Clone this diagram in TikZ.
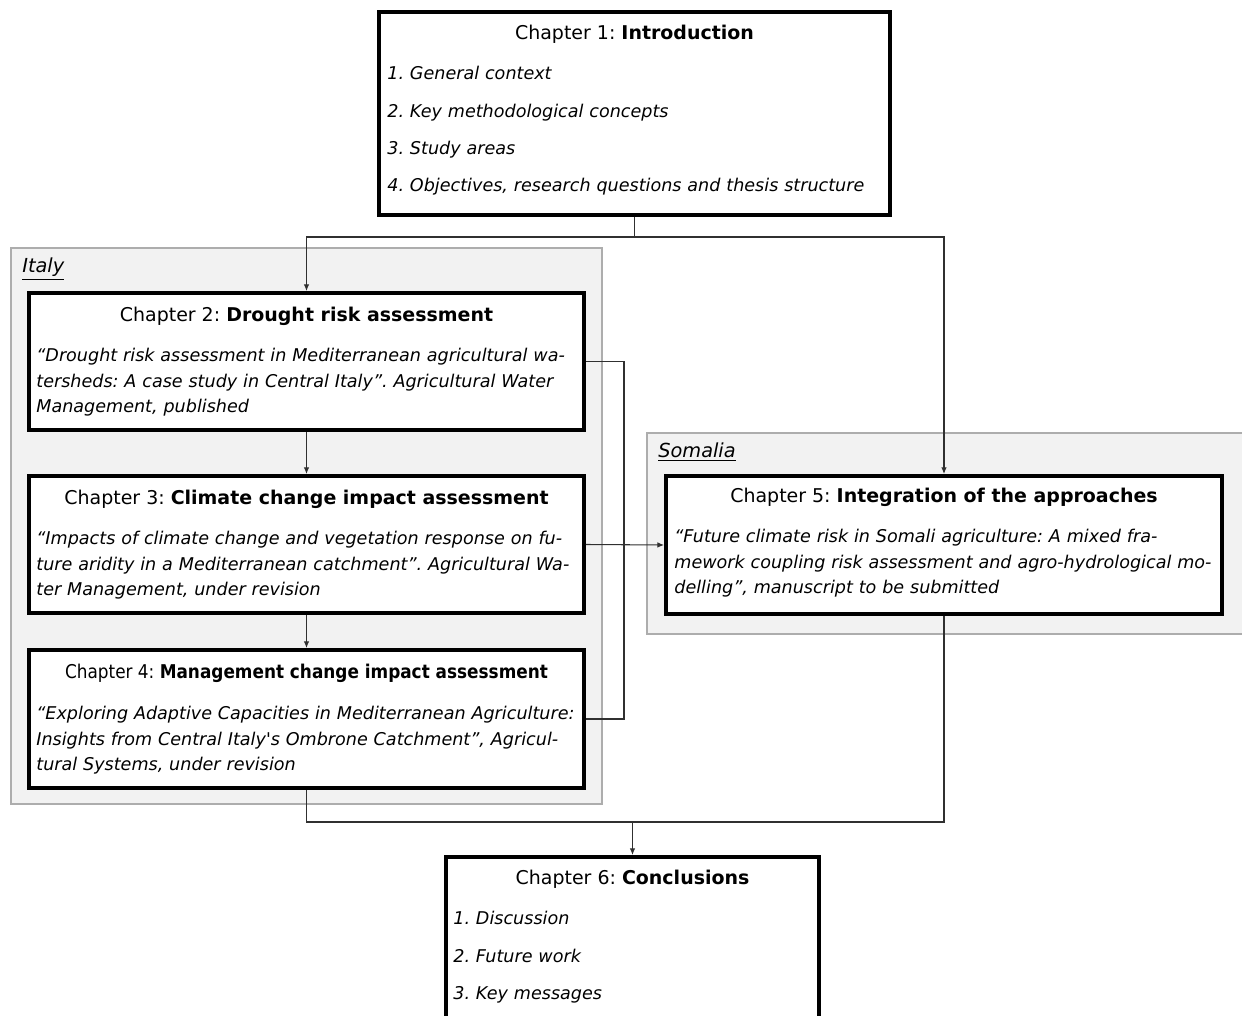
\documentclass[tikz,border=0pt]{standalone}
\usepackage{fontspec}
\setmainfont{DejaVu Sans}
\usepackage{graphicx}
\usetikzlibrary{arrows.meta,positioning,calc}

\definecolor{groupfill}{HTML}{F2F2F2}
\definecolor{groupline}{HTML}{ADADAD}
\definecolor{connline}{HTML}{303030}

\newcommand{\chap}[2]{Chapter #1: \textbf{#2}}
\frenchspacing

\begin{document}
\begin{tikzpicture}[x=0.02cm,y=-0.02cm,
    chapbox/.style={draw=black,line width=2.3pt,fill=white,inner sep=0pt},
    chaptitle/.style={font=\fontsize{10.8}{13}\selectfont,inner sep=0pt},
    chapbody/.style={font=\fontsize{10}{14.5}\selectfont\itshape,inner sep=0pt,
      anchor=base west,text width=10.9cm,align=left},
    chaplist/.style={chapbody,font=\fontsize{10}{21.2}\selectfont\itshape,text width=9.8cm},
    group/.style={draw=groupline,line width=1.1pt,fill=groupfill,inner sep=0pt},
    grouplabel/.style={font=\fontsize{11}{13}\selectfont\itshape,inner sep=0pt,anchor=base west},
    conn/.style={draw=connline,line width=0.6pt},
    arr/.style={conn,-{Latex[length=3.8pt,width=3.2pt]}}
  ]
  \useasboundingbox (0,0) rectangle (1242,1016);

  % groups
  \node[group,minimum width=11.82cm,minimum height=11.12cm] (italy) at (306.5,526) {};
  \node[group,minimum width=12.26cm,minimum height=4.02cm] (somalia) at (953.5,533.5) {};
  \node[grouplabel] (italylbl) at (22,273) {\underline{Italy}};
  \node[grouplabel] (somalialbl) at (658,458) {\underline{Somalia}};

  % chapters
  \node[chapbox,minimum width=10.22cm,minimum height=4.06cm] (ch1) at (634.5,113.5) {};
  \node[chapbox,minimum width=11.1cm,minimum height=2.74cm] (ch2) at (306.5,361.5) {};
  \node[chapbox,minimum width=11.1cm,minimum height=2.74cm] (ch3) at (306.5,544.5) {};
  \node[chapbox,minimum width=11.1cm,minimum height=2.76cm] (ch4) at (306.5,719) {};
  \node[chapbox,minimum width=11.12cm,minimum height=2.76cm] (ch5) at (944,545) {};
  \node[chapbox,minimum width=7.46cm,minimum height=3.46cm] (ch6) at (632.5,943.5) {};

  % titles
  \node[chaptitle] (t1) at ($(ch1.north)+(0,24)$) {\chap{1}{Introduction}};
  \node[chaptitle] (t2) at ($(ch2.north)+(0,25)$) {\chap{2}{Drought risk assessment}};
  \node[chaptitle] (t3) at ($(ch3.north)+(0,25)$) {\chap{3}{Climate change impact assessment}};
  \node[chaptitle] (t4) at ($(ch4.north)+(0,25)$) {\scalebox{0.89}[1]{\chap{4}{Management change impact assessment}}};
  \node[chaptitle] (t5) at ($(ch5.north)+(0,23)$) {\chap{5}{Integration of the approaches}};
  \node[chaptitle] (t6) at ($(ch6.north)+(0,24)$) {\chap{6}{Conclusions}};

  % contents
  \node[chaplist] (b1) at ($(ch1.north west)+(10,70)$) {1. General context\\
    2. Key methodological concepts\\ 3. Study areas\\
    4. Objectives, research questions and thesis structure};
  \node[chapbody] (b2) at ($(ch2.north west)+(9,71)$) {“Drought risk assessment in Mediterranean agricultural wa-\\
    tersheds: A case study in Central Italy”. Agricultural Water\\
    Management, published};
  \node[chapbody] (b3) at ($(ch3.north west)+(9,71)$) {“Impacts of climate change and vegetation response on fu-\\
    ture aridity in a Mediterranean catchment”. Agricultural Wa-\\
    ter Management, under revision};
  \node[chapbody] (b4) at ($(ch4.north west)+(9,72)$) {“Exploring Adaptive Capacities in Mediterranean Agriculture:\\
    Insights from Central Italy\textquotesingle s Ombrone Catchment”, Agricul-\\
    tural Systems, under revision};
  \node[chapbody] (b5) at ($(ch5.north west)+(10,69)$) {“Future climate risk in Somali agriculture: A mixed fra-\\
    mework coupling risk assessment and agro-hydrological mo-\\
    delling”, manuscript to be submitted};
  \node[chaplist] (b6) at ($(ch6.north west)+(9,70)$) {1. Discussion\\ 2. Future work\\ 3. Key messages};

  % connectors
  \coordinate (split) at (634.5,237);
  \draw[conn] (ch1.south) -- (split);
  \draw[arr] (split) -| (ch2.north);
  \draw[arr] (split) -| (ch5.north);
  \draw[arr] (ch2.south) -- (ch3.north);
  \draw[arr] (ch3.south) -- (ch4.north);
  \coordinate (loop) at (624,361.5);
  \draw[conn] (ch2.east) -- (loop) |- (ch4.east);
  \draw[arr] (ch3.east) -- (ch5.west);
  \coordinate (merge) at (632.5,822);
  \draw[conn] (ch4.south) |- (merge);
  \draw[conn] (ch5.south) |- (merge);
  \draw[arr] (merge) -- (ch6.north);
\end{tikzpicture}
\end{document}
